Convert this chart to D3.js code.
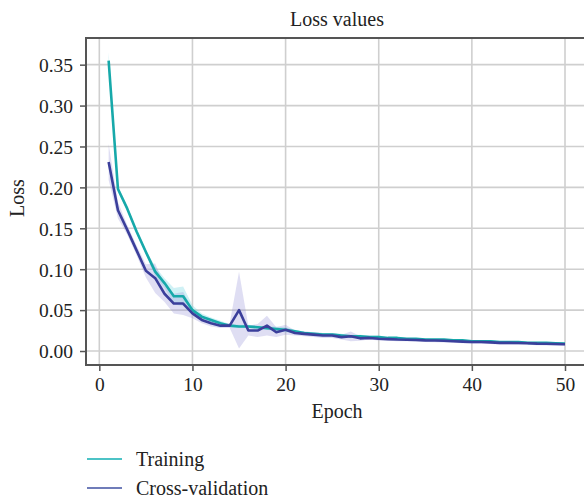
<!DOCTYPE html>
<html><head><meta charset="utf-8">
<script src="https://cdn.jsdelivr.net/npm/d3@7"></script>
<style>body{margin:0;background:#fff}svg{display:block}text{font-family:"Liberation Serif","DejaVu Serif",serif;fill:#222}</style>
</head><body><svg id="c" width="584" height="498"></svg>
<script>
const epochs = d3.range(1, 51);
const trainLoss = [0.355,0.198,0.174,0.146,0.121,0.097,0.083,0.067,0.067,0.050,
  0.042,0.038,0.034,0.031,0.030,0.030,0.029,0.028,0.027,0.026,
  0.024,0.022,0.021,0.020,0.020,0.019,0.018,0.018,0.017,0.017,
  0.016,0.016,0.015,0.015,0.014,0.014,0.014,0.013,0.013,0.012,
  0.012,0.012,0.011,0.011,0.011,0.010,0.010,0.010,0.0095,0.009];
const trainSpread = [0.010,0.004,0.003,0.003,0.003,0.006,0.006,0.010,0.012,0.006,
  0.004,0.003,0.003,0.002,0.002,0.002,0.002,0.002,0.003,0.003,
  0.002,0.002,0.002,0.002,0.002,0.002,0.002,0.002,0.002,0.002,
  0.001,0.001,0.001,0.001,0.001,0.001,0.001,0.001,0.001,0.001,
  0.001,0.001,0.001,0.001,0.001,0.001,0.001,0.001,0.001,0.001];
const cvLoss = [0.231,0.172,0.148,0.123,0.098,0.089,0.070,0.058,0.058,0.046,
  0.038,0.034,0.031,0.031,0.050,0.025,0.025,0.031,0.023,0.026,
  0.022,0.021,0.020,0.019,0.019,0.017,0.018,0.0155,0.016,0.015,
  0.0145,0.014,0.0138,0.0135,0.013,0.0128,0.0125,0.012,0.0115,0.011,
  0.011,0.0105,0.010,0.010,0.0098,0.0095,0.009,0.0088,0.0085,0.0082];
const cvSpread = [0.022,0.010,0.006,0.006,0.008,0.018,0.010,0.012,0.014,0.006,
  0.004,0.004,0.003,0.003,0.047,0.006,0.008,0.012,0.006,0.006,
  0.003,0.003,0.003,0.003,0.003,0.003,0.006,0.003,0.002,0.002,
  0.002,0.002,0.002,0.002,0.002,0.002,0.002,0.002,0.002,0.002,
  0.002,0.002,0.002,0.002,0.002,0.002,0.002,0.002,0.002,0.002];
const xTicks = [0,10,20,30,40,50];
const yTicks = [0,0.05,0.10,0.15,0.20,0.25,0.30,0.35];
const seriesNames = ["Training","Cross-validation"];

const svg = d3.select("#c");
const L=86, T=38, R=584, B=365;
const x = d3.scaleLinear().domain([-1.43, 52.04]).range([L, R]);
const y = d3.scaleLinear().domain([-0.0171, 0.3826]).range([B, T]);

// grid
const g = svg.append("g");
g.selectAll(".vg").data(xTicks).join("line")
  .attr("x1", d=>x(d)).attr("x2", d=>x(d)).attr("y1", T).attr("y2", B)
  .attr("stroke", "#cfcfcf").attr("stroke-width", 1.6);
g.selectAll(".hg").data(yTicks).join("line")
  .attr("x1", L).attr("x2", R).attr("y1", d=>y(d)).attr("y2", d=>y(d))
  .attr("stroke", "#cfcfcf").attr("stroke-width", 1.6);

const series = [
  {name: seriesNames[0], vals: trainLoss, sp: trainSpread, color: "#17a9aa", band: "rgba(120,215,225,0.35)", leg: "#4cc3c6"},
  {name: seriesNames[1], vals: cvLoss, sp: cvSpread, color: "#3b3f9b", band: "rgba(150,145,215,0.30)", leg: "#6f7cb9"}
];
const area = d3.area().x((d,i)=>x(epochs[i])).y0(d=>y(d[0])).y1(d=>y(d[1]));
const line = d3.line().x((d,i)=>x(epochs[i])).y(d=>y(d));
series.forEach(s => {
  svg.append("path").attr("d", area(s.vals.map((v,i)=>[v - s.sp[i], v + s.sp[i]])))
    .attr("fill", s.band);
});
series.forEach(s => {
  svg.append("path").attr("d", line(s.vals)).attr("fill","none")
    .attr("stroke", s.color).attr("stroke-width", 2.6).attr("stroke-linejoin","round");
});

// axes
const xAxis = d3.axisBottom(x).tickValues(xTicks).tickSize(6).tickPadding(6).tickFormat(d3.format("d"));
const yAxis = d3.axisLeft(y).tickValues(yTicks).tickSize(6).tickPadding(7).tickFormat(d3.format(".2f"));
const gx = svg.append("g").attr("transform", `translate(0,${B})`).call(xAxis);
const gy = svg.append("g").attr("transform", `translate(${L},0)`).call(yAxis);
[gx, gy].forEach(a => {
  a.select(".domain").remove();
  a.selectAll("line").attr("stroke", "#555").attr("stroke-width", 1.5);
  a.selectAll("text").style("font-size", "19.5px").attr("fill", "#222");
});
gy.selectAll("text").attr("dy", "0.35em");
// frame
svg.append("path").attr("d", `M${R},${T}H${L}V${B}H${R}`).attr("fill","none")
  .attr("stroke", "#555").attr("stroke-width", 2);

svg.append("text").attr("x", 337).attr("y", 26).attr("text-anchor","middle")
  .style("font-size","20px").text("Loss values");
svg.append("text").attr("x", 337).attr("y", 418).attr("text-anchor","middle")
  .style("font-size","20px").text("Epoch");
svg.append("text").attr("transform","translate(24,198) rotate(-90)").attr("text-anchor","middle")
  .style("font-size","20px").text("Loss");

// legend
const lg = svg.append("g");
series.forEach((s,i) => {
  const yy = 459 + i*29;
  lg.append("line").attr("x1", 87).attr("x2", 122).attr("y1", yy).attr("y2", yy)
    .attr("stroke", s.leg).attr("stroke-width", 2);
  lg.append("text").attr("x", 136).attr("y", yy + 6.5).style("font-size","20px").text(s.name);
});
</script></body></html>
